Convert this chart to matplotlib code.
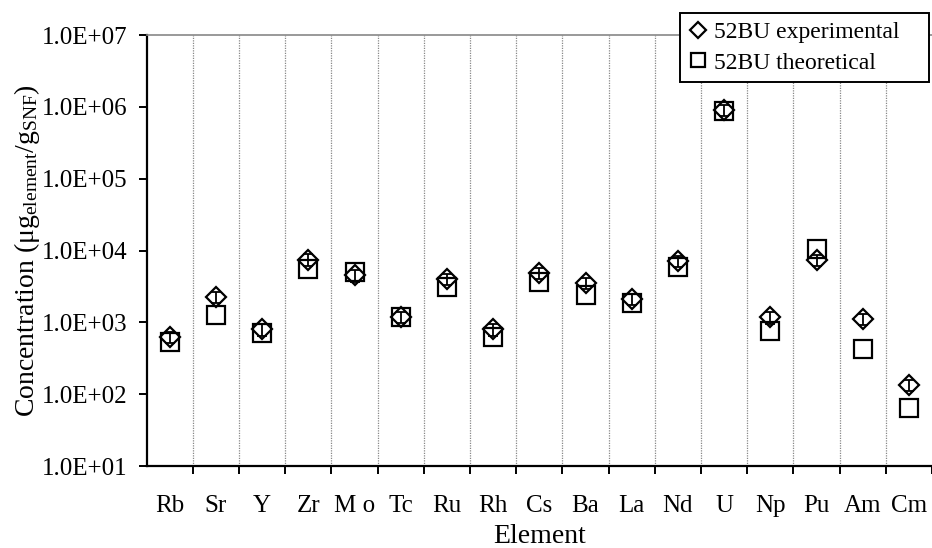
import numpy as np
import matplotlib
matplotlib.use("Agg")
import matplotlib.pyplot as plt
from matplotlib.ticker import FixedLocator, NullFormatter

# --- data ---
elements = ['Rb', 'Sr', 'Y', 'Zr', 'M o', 'Tc', 'Ru', 'Rh', 'Cs', 'Ba',
            'La', 'Nd', 'U', 'Np', 'Pu', 'Am', 'Cm']
experimental = [620, 2250, 800, 7500, 4500, 1180, 4000, 800, 4850, 3500,
                2100, 7100, 900000, 1170, 7400, 1100, 135]
theoretical = [530, 1260, 710, 5500, 5000, 1200, 3100, 620, 3600, 2400,
               1860, 5900, 880000, 760, 10400, 425, 64]
# relative uncertainty of the measurement (%)
exp_err_pct = [18, 17, 18, 18, 18, 18, 17, 18, 17, 18,
               18, 18, 17, 18, 18, 17, 18]

plt.rcParams['font.family'] = ['Liberation Serif', 'DejaVu Serif']
plt.rcParams['mathtext.fontset'] = 'custom'
plt.rcParams['mathtext.rm'] = 'Liberation Serif'
plt.rcParams['mathtext.it'] = 'Liberation Serif:italic'

fig = plt.figure(figsize=(9.32, 5.48), dpi=100)
ax = fig.add_axes([0.1574, 0.1496, 0.8426, 0.7864])

x = np.arange(len(elements))
exp_arr = np.array(experimental, dtype=float)
err = exp_arr * np.array(exp_err_pct) / 100.0

ax.errorbar(x, exp_arr, yerr=err, fmt='none', ecolor='black',
            elinewidth=1.3, capsize=3.5, capthick=1.3, zorder=3)
ax.plot(x, theoretical, linestyle='none', marker='s', markersize=13.5,
        markerfacecolor='none', markeredgecolor='black', markeredgewidth=1.6,
        label='52BU theoretical', zorder=4)
ax.plot(x, experimental, linestyle='none', marker='D', markersize=10.5,
        markerfacecolor='none', markeredgecolor='black', markeredgewidth=1.6,
        label='52BU experimental', zorder=5)

ax.set_yscale('log')
ax.set_ylim(1e1, 1e7)
ax.set_xlim(-0.5, len(elements) - 0.5)

# y ticks
ax.yaxis.set_major_locator(FixedLocator([10.0 ** k for k in range(1, 8)]))
ax.yaxis.set_minor_locator(FixedLocator([]))
ax.set_yticklabels([f"1.0E+{k:02d}" for k in range(1, 8)])
ax.tick_params(axis='y', which='major', direction='out', length=6,
               width=1.4, pad=8, labelsize=18)

# x ticks: labels at centres, tick marks at category boundaries
ax.set_xticks(x)
ax.set_xticklabels(elements)
ax.xaxis.set_minor_locator(FixedLocator(np.arange(len(elements)) + 0.5))
ax.xaxis.set_minor_formatter(NullFormatter())
ax.tick_params(axis='x', which='major', length=0, pad=21, labelsize=18)
ax.tick_params(axis='x', which='minor', direction='out', length=6, width=1.4)

# dotted separators between elements
for b in np.arange(len(elements) - 1) + 0.5:
    ax.axvline(b, color='#888888', linestyle=(0, (1, 1)), linewidth=0.9,
               zorder=1)

ax.spines['right'].set_visible(False)
ax.spines['top'].set_color('#888888')
ax.spines['top'].set_linewidth(1.2)
ax.spines['left'].set_linewidth(1.6)
ax.spines['bottom'].set_linewidth(1.6)

ax.set_xlabel('Element', fontsize=20, labelpad=5)
ax.set_ylabel('Concentration (μg$_{\\mathrm{element}}$/g$_{\\mathrm{SNF}}$)',
              fontsize=20, labelpad=0)

handles, labels = ax.get_legend_handles_labels()
leg = fig.legend(handles[::-1], labels[::-1], loc='upper left',
                 bbox_to_anchor=(680 / 932, 1 - 83 / 548, 249 / 932, 70 / 548),
                 mode='expand', fontsize=17,
                 markerscale=0.75, handlelength=0.8, handletextpad=0.3,
                 borderpad=0.35, labelspacing=0.4, fancybox=False,
                 framealpha=1, edgecolor='black', borderaxespad=0)
leg.get_frame().set_linewidth(1.4)

fig.savefig('out.png', dpi=100)
